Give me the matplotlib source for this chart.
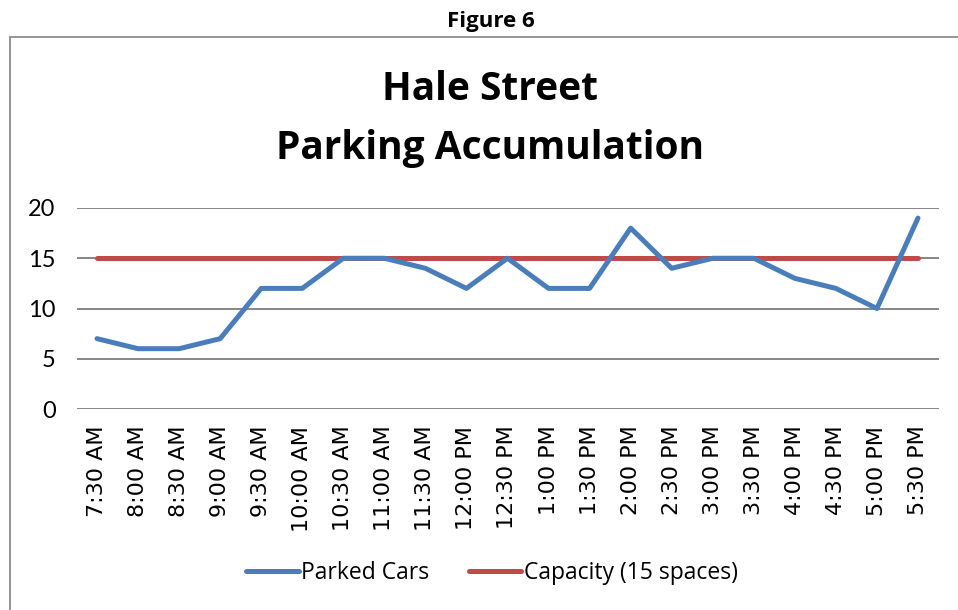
import matplotlib
matplotlib.use("Agg")
import matplotlib.pyplot as plt
from matplotlib.patches import Rectangle

times = ["7:30 AM", "8:00 AM", "8:30 AM", "9:00 AM", "9:30 AM", "10:00 AM", "10:30 AM",
         "11:00 AM", "11:30 AM", "12:00 PM", "12:30 PM", "1:00 PM", "1:30 PM", "2:00 PM",
         "2:30 PM", "3:00 PM", "3:30 PM", "4:00 PM", "4:30 PM", "5:00 PM", "5:30 PM"]
parked = [7, 6, 6, 7, 12, 12, 15, 15, 14, 12, 15, 12, 12, 18, 14, 15, 15, 13, 12, 10, 19]
capacity = [15] * len(times)
yticks = [0, 5, 10, 15, 20]

W, H = 958, 610
fig = plt.figure(figsize=(W / 100, H / 100), dpi=100)
fig.patch.set_facecolor("white")

# outer chart frame
fig.patches.append(Rectangle((10 / W, -0.05), 1.1, 1 - 37 / H + 0.05,
                             transform=fig.transFigure, fill=False,
                             edgecolor="#8c8c8c", linewidth=1.3, clip_on=False))

fig.text(491 / W, 1 - 22 / H, "Figure 6", ha="center", va="center",
         fontsize=16, fontweight="bold", family="Open Sans")
fig.text(490 / W, 1 - 90 / H, "Hale Street", ha="center", va="center",
         fontsize=28, fontweight="bold", family="Open Sans")
fig.text(490 / W, 1 - 148 / H, "Parking Accumulation", ha="center", va="center",
         fontsize=28, fontweight="bold", family="Open Sans")

left, right = 76.5 / W, 938.5 / W
bottom, top = 1 - 409 / H, 1 - 208 / H
ax = fig.add_axes([left, bottom, right - left, top - bottom])
x = list(range(len(times)))
ax.set_xlim(-0.5, len(times) - 0.5)
ax.set_ylim(0, 20)
ax.set_yticks(yticks)
ax.set_yticklabels([str(v) for v in yticks], fontsize=17, family="Lato")
ax.yaxis.grid(True, color="#868686", linewidth=1.4)
ax.set_axisbelow(True)
for s in ax.spines.values():
    s.set_visible(False)
ax.tick_params(axis="both", length=0)
ax.tick_params(axis="y", pad=15)
ax.set_xticks(x)
ax.set_xticklabels(times, rotation=90, fontsize=16, family="DejaVu Sans")
ax.tick_params(axis="x", pad=12)

ax.plot(x, parked, color="#4A7EBB", linewidth=3.6, solid_capstyle="round",
        solid_joinstyle="round", label="Parked Cars", zorder=3)
ax.plot(x, capacity, color="#BE4B48", linewidth=3.6, solid_capstyle="round",
        label="Capacity (15 spaces)", zorder=2)

leg = fig.legend(loc="center", bbox_to_anchor=(492 / W, 1 - 573 / H), ncol=2,
                 frameon=False, prop={"family": "Open Sans", "size": 16.5},
                 handlelength=2.3, handletextpad=0.1, columnspacing=1.7)

fig.savefig("out.png", dpi=100)
